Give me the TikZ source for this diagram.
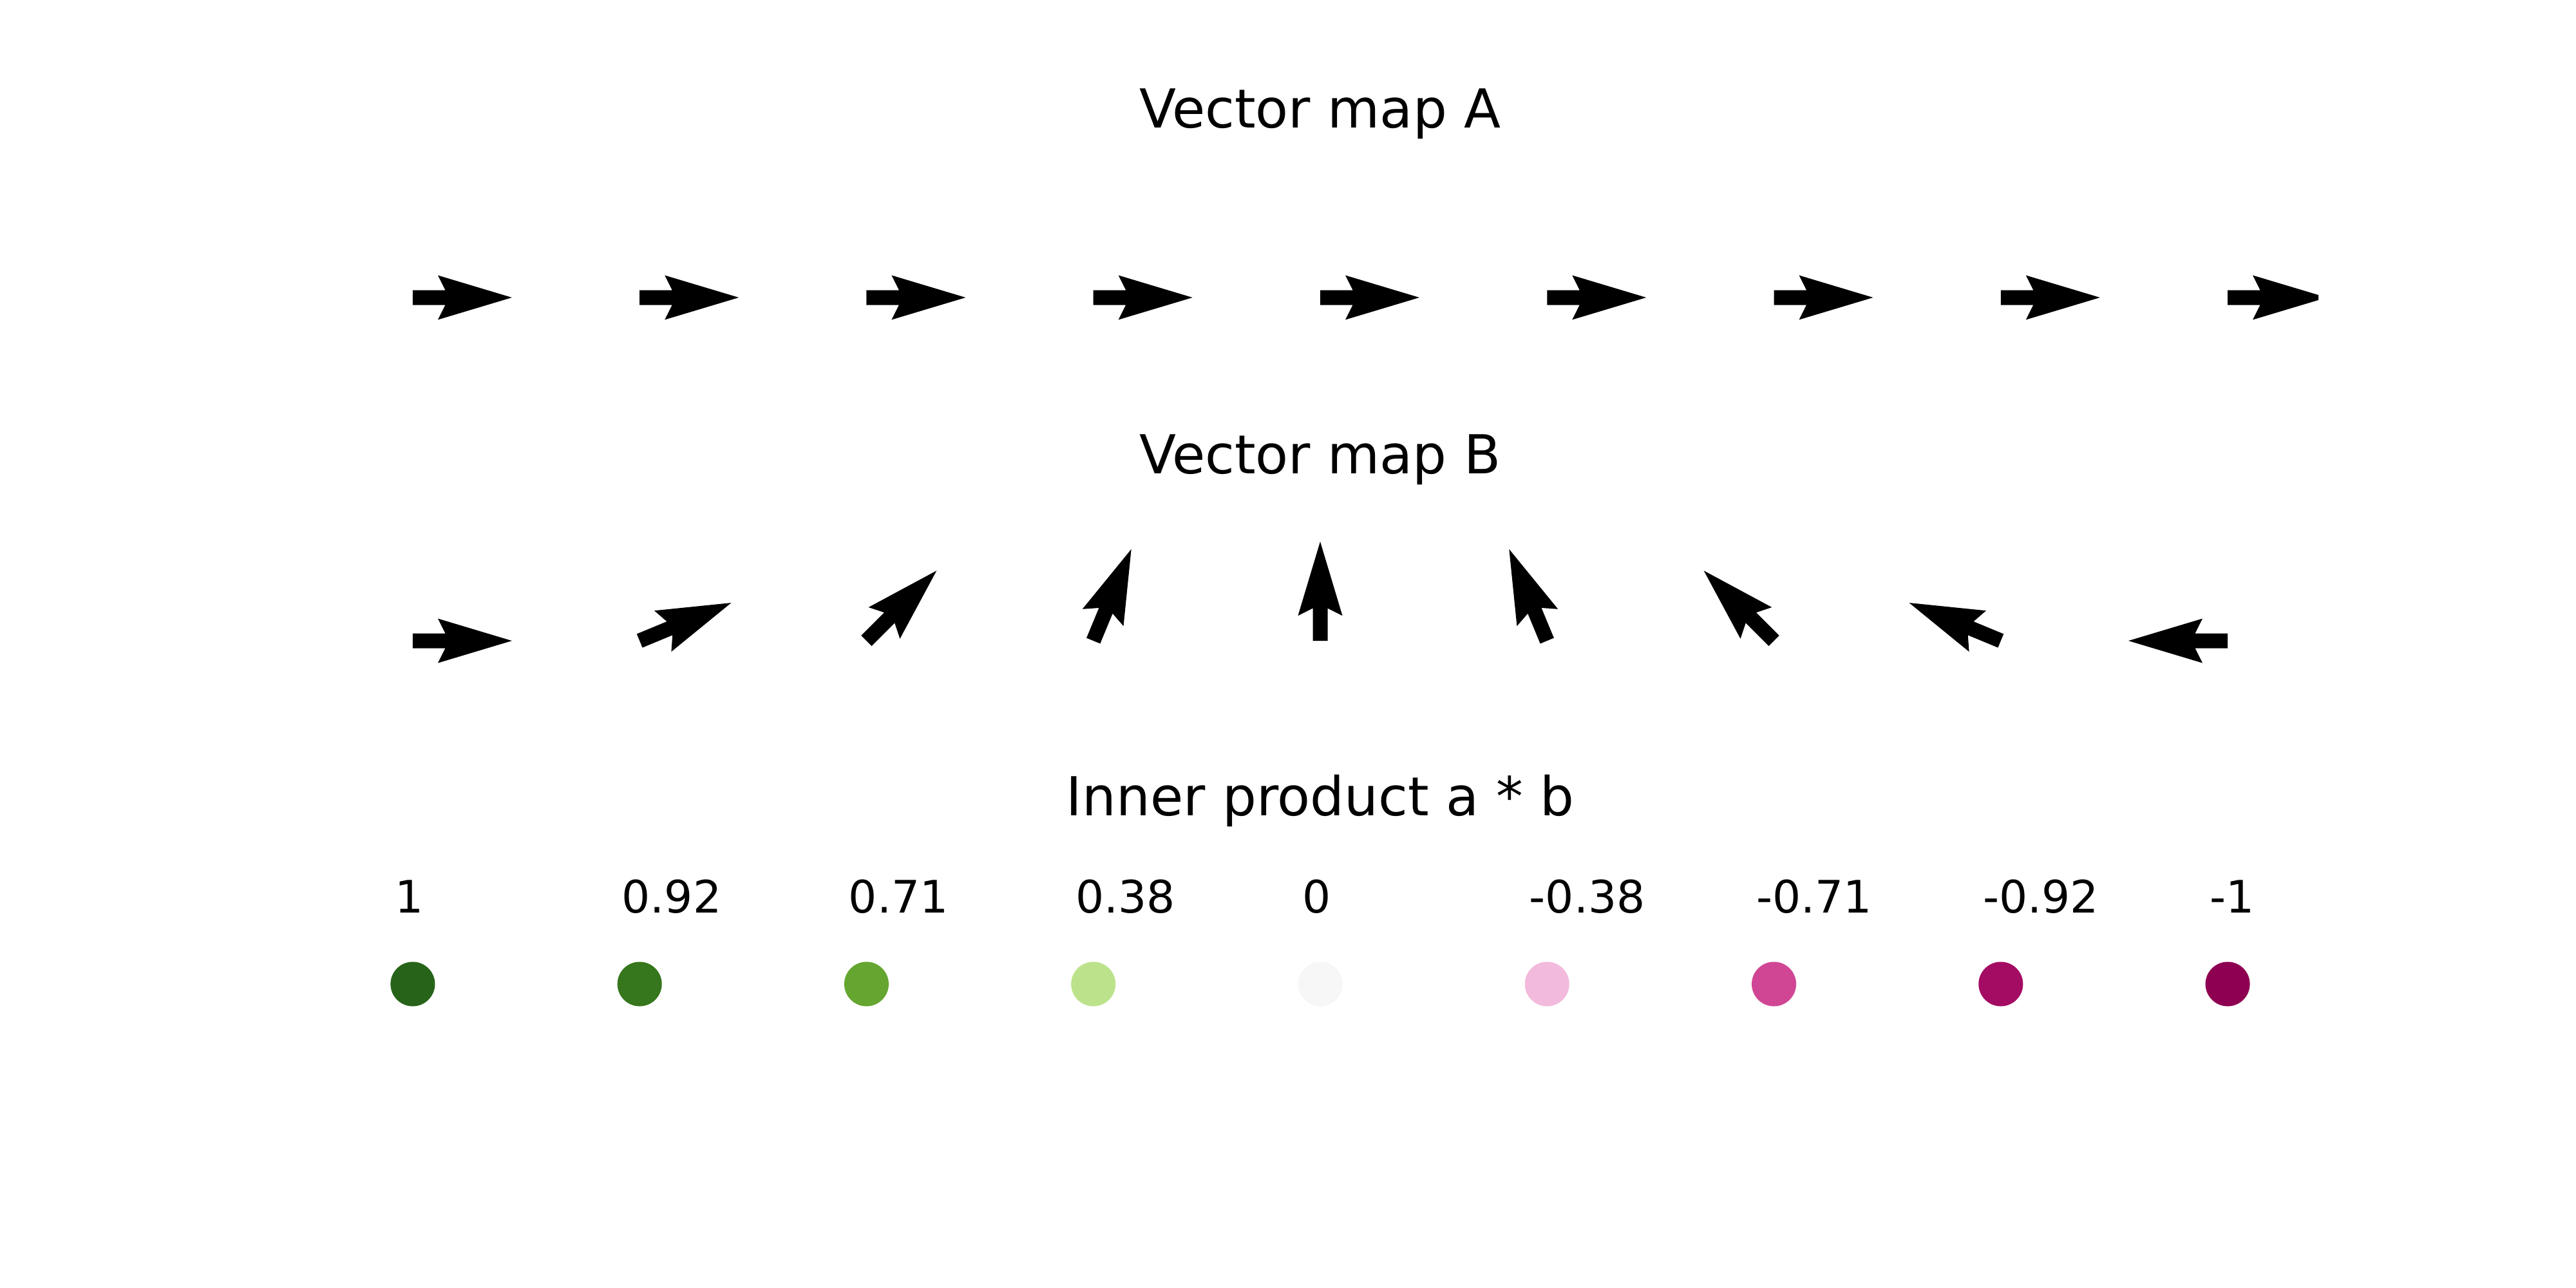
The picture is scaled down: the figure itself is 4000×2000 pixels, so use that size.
\documentclass[tikz,border=0pt]{standalone}
\usepackage{fontspec}
\setmainfont{DejaVu Sans}
\definecolor{c0}{RGB}{39,100,25}
\definecolor{c1}{RGB}{54,118,28}
\definecolor{c2}{RGB}{100,166,48}
\definecolor{c3}{RGB}{188,227,140}
\definecolor{c4}{RGB}{247,247,247}
\definecolor{c5}{RGB}{242,186,220}
\definecolor{c6}{RGB}{209,70,148}
\definecolor{c7}{RGB}{164,11,99}
\definecolor{c8}{RGB}{142,1,82}
\tikzset{
  qarrow/.pic={\fill[black] (0,-11.5) -- (50.5,-11.5) -- (39,-34.5) -- (154,0) -- (39,34.5) -- (50.5,11.5) -- (0,11.5) -- cycle;},
  titletext/.style={anchor=base, inner sep=0pt, font=\fontsize{23.71pt}{28pt}\selectfont},
  valtext/.style={anchor=base west, inner sep=0pt, font=\fontsize{19.76pt}{24pt}\selectfont},
  dotmark/.style={circle, inner sep=0pt, minimum size=0.69cm, draw=none}
}
\begin{document}
\begin{tikzpicture}[x=0.01cm, y=-0.01cm]
\useasboundingbox (0,0) rectangle (4000,2000);
\node[titletext] (tA) at (2050,199) {Vector map A};
\node[titletext] (tB) at (2050,735) {Vector map B};
\node[titletext] (tC) at (2050,1266) {Inner product a * b};
\begin{scope}
  \clip (500,240) rectangle (3600,690);
  \foreach \i in {0,...,8} {
    \pic at ({640.9+352.27*\i},462) {qarrow};
  }
\end{scope}
\foreach \i in {0,...,8} {
  \pic[rotate={22.5*\i}] at ({640.9+352.27*\i},995) {qarrow};
}
\foreach \i/\v/\c in {0/1/c0, 1/0.92/c1, 2/0.71/c2, 3/0.38/c3, 4/0/c4, 5/-0.38/c5, 6/-0.71/c6, 7/-0.92/c7, 8/-1/c8} {
  \node[dotmark, fill=\c] (d\i) at ({640.9+352.27*\i},1528) {};
  \node[valtext] (l\i) at ({640.9+352.27*\i-28.2},1417) {\v};
}
\end{tikzpicture}
\end{document}
